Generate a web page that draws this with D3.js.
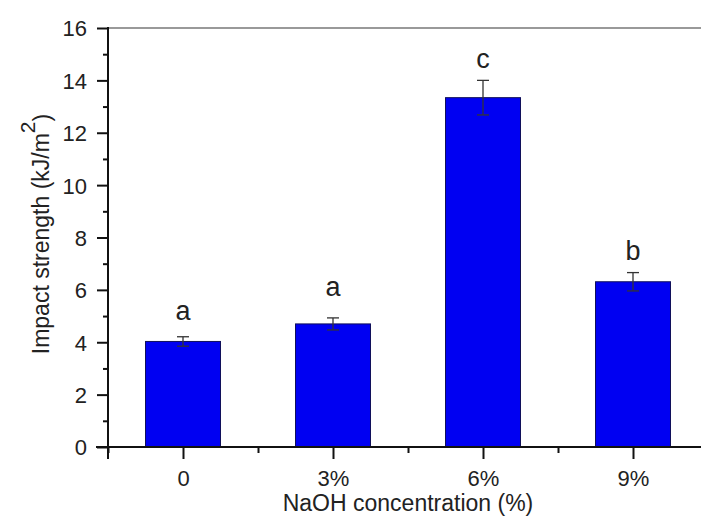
<!DOCTYPE html>
<html>
<head>
<meta charset="utf-8">
<script src="https://cdn.jsdelivr.net/npm/d3@7"></script>
<style>
  body { margin: 0; background: #fff; }
  svg text { font-family: Arial, "Liberation Sans", sans-serif; fill: #222; }
</style>
</head>
<body>
<div class="container"></div>
<script>
// values
const categories = ["0", "3%", "6%", "9%"];
const strength = [4.03, 4.70, 13.34, 6.31];
const errors = [0.18, 0.23, 0.66, 0.35];
const letters = ["a", "a", "c", "b"];
const letterPos = [4.85, 5.75, 14.47, 7.14];
const yTicks = [0, 2, 4, 6, 8, 10, 12, 14, 16];
const yMinor = [1, 3, 5, 7, 9, 11, 13, 15];
const xMinor = [0.5, 1.5, 2.5, 3.5, 4.5];

const width = 701, height = 518;
const m_left = 108, m_right = 708, m_top = 28, m_bottom = 447;

let svg = d3.select(".container").append("svg")
  .attr("width", width)
  .attr("height", height);

const x = d3.scaleLinear().domain([0.5, 4.5]).range([m_left, m_right]);
const y = d3.scaleLinear().domain([0, 16]).range([m_bottom, m_top]);
const barW = 75;

// top frame line
svg.append("line")
  .attr("x1", m_left).attr("x2", m_right)
  .attr("y1", y(16)).attr("y2", y(16))
  .attr("stroke", "#777").attr("stroke-width", 1.5);

// bars
svg.selectAll("rect.bar")
  .data(strength)
  .enter()
  .append("rect")
  .attr("class", "bar")
  .attr("x", (d, i) => x(i + 1) - barW / 2)
  .attr("width", barW)
  .attr("y", d => y(d))
  .attr("height", d => y(0) - y(d))
  .attr("fill", "#0000f2")
  .attr("stroke", "#10105a")
  .attr("stroke-width", 1);

// error bars
let eb = svg.selectAll("g.err")
  .data(strength)
  .enter()
  .append("g")
  .attr("class", "err")
  .attr("stroke", "#333")
  .attr("stroke-width", 1.3);
eb.append("line")
  .attr("x1", (d, i) => x(i + 1)).attr("x2", (d, i) => x(i + 1))
  .attr("y1", (d, i) => y(d - errors[i])).attr("y2", (d, i) => y(d + errors[i]));
["+", "-"].forEach(sign => {
  eb.append("line")
    .attr("x1", (d, i) => x(i + 1) - 6).attr("x2", (d, i) => x(i + 1) + 6)
    .attr("y1", (d, i) => y(sign === "+" ? d + errors[i] : d - errors[i]))
    .attr("y2", (d, i) => y(sign === "+" ? d + errors[i] : d - errors[i]));
});

// significance letters
svg.selectAll("text.letter")
  .data(letters)
  .enter()
  .append("text")
  .attr("class", "letter")
  .attr("x", (d, i) => x(i + 1))
  .attr("y", (d, i) => y(letterPos[i]))
  .attr("text-anchor", "middle")
  .style("font-size", "27px")
  .text(d => d);

// y axis
const yAxis = svg.append("g")
  .attr("transform", `translate(${m_left},0)`)
  .call(d3.axisLeft(y).tickValues(yTicks).tickSize(11).tickPadding(10).tickFormat(d3.format("d")));
yAxis.append("g")
  .call(d3.axisLeft(y).tickValues(yMinor).tickSize(5).tickFormat(""));
yAxis.selectAll(".domain").remove();
yAxis.append("line")
  .attr("x1", 0).attr("x2", 0)
  .attr("y1", y(16) - 1).attr("y2", y(0) + 12)
  .attr("stroke", "#111").attr("stroke-width", 2);
yAxis.selectAll(".tick line").attr("stroke", "#111").attr("stroke-width", 2);
yAxis.selectAll(".tick text").style("font-size", "22px").attr("fill", "#222").attr("dy", "0.36em");

// x axis
const xAxis = svg.append("g")
  .attr("transform", `translate(0,${m_bottom})`)
  .call(d3.axisBottom(x).tickValues([1, 2, 3, 4]).tickSize(12).tickPadding(11)
    .tickFormat((d, i) => categories[i]));
xAxis.append("g")
  .call(d3.axisBottom(x).tickValues(xMinor).tickSize(6).tickFormat(""));
xAxis.selectAll(".domain").remove();
xAxis.append("line")
  .attr("x1", m_left - 12).attr("x2", m_right)
  .attr("y1", 0).attr("y2", 0)
  .attr("stroke", "#111").attr("stroke-width", 2);
xAxis.selectAll(".tick line").attr("stroke", "#111").attr("stroke-width", 2);
xAxis.selectAll(".tick text").style("font-size", "22px").attr("fill", "#222");

// axis titles
svg.append("text")
  .attr("x", 408).attr("y", 511)
  .attr("text-anchor", "middle")
  .style("font-size", "23px")
  .text("NaOH concentration (%)");

const yTitle = svg.append("text")
  .attr("transform", "translate(49,234) rotate(-90)")
  .attr("text-anchor", "middle")
  .style("font-size", "23px");
yTitle.append("tspan").text("Impact strength (kJ/m");
yTitle.append("tspan").attr("dy", "-0.65em").style("font-size", "21px").text("2");
yTitle.append("tspan").attr("dy", "0.65em").text(")");
</script>
</body>
</html>
